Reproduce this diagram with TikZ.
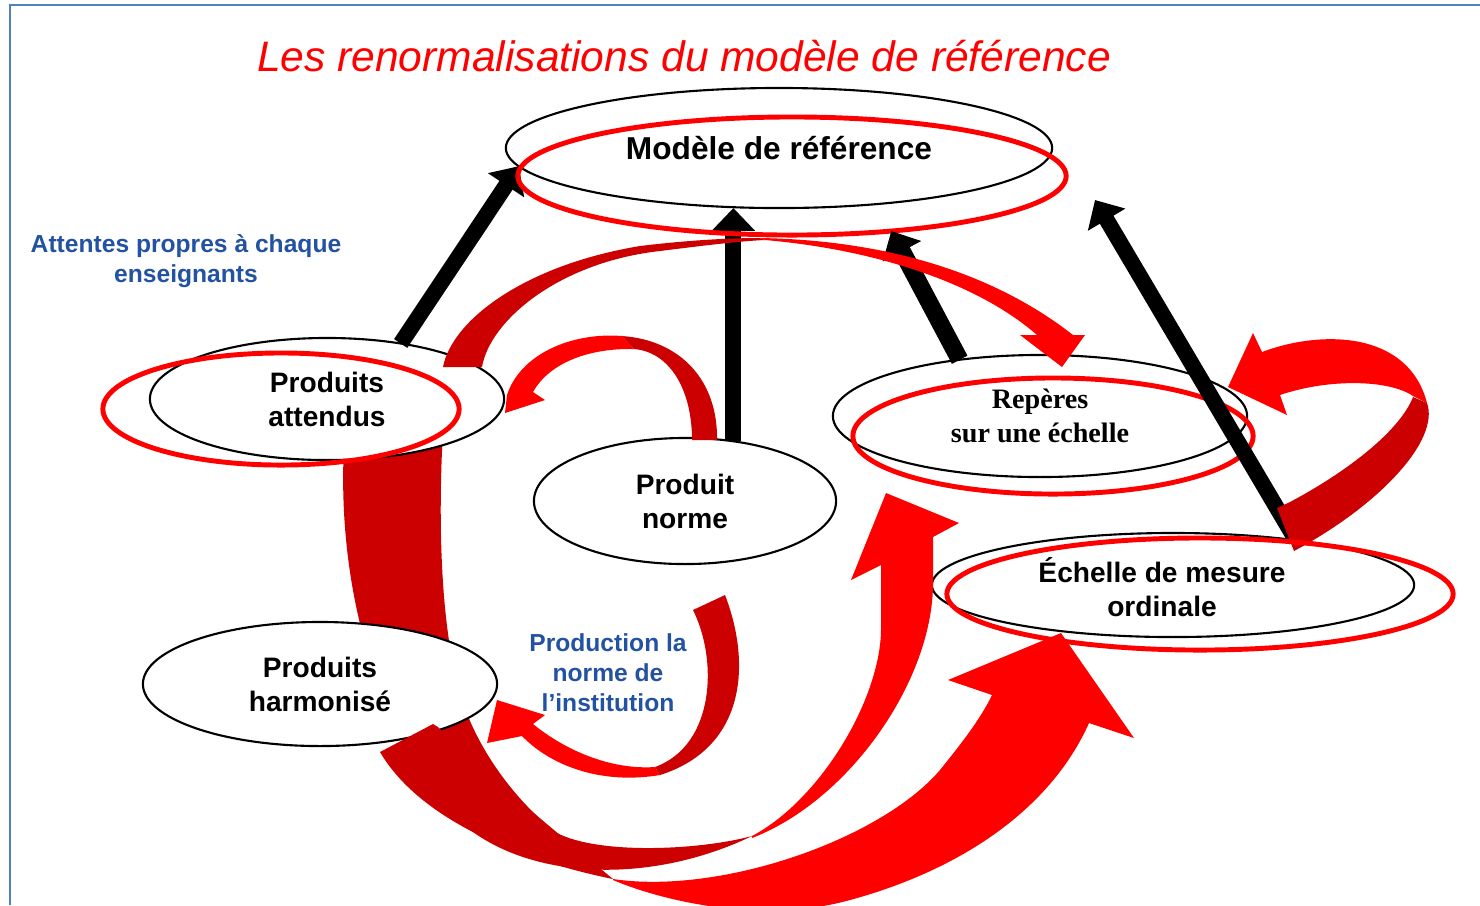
\documentclass[tikz,border=0pt]{standalone}
\usepackage{fontspec}
\setmainfont{Liberation Sans}
\newfontfamily\timesfont{Liberation Serif}
\usepackage{xcolor}
\usepackage{tikz}
\usetikzlibrary{shapes.geometric, arrows.meta}

\definecolor{rouge}{RGB}{255,0,0}
\definecolor{rougefonce}{RGB}{204,0,0}
\definecolor{bleutexte}{RGB}{35,82,162}
\definecolor{bleucadre}{RGB}{79,129,189}

\begin{document}
\begin{tikzpicture}[x=0.01cm, y=-0.01cm,
    boite/.style={ellipse, draw, line width=0.6pt, fill=white, inner sep=0pt, outer sep=0pt},
    anneau/.style={ellipse, draw=rouge, line width=1.4pt, inner sep=0pt, outer sep=0pt},
    fleche/.style={line width=4.5pt, -{Triangle[width=12pt, length=6.5pt]}},
    texte/.style={align=center, font=\fontsize{8}{9.7}\selectfont\bfseries},
    note/.style={align=center, text=bleutexte, font=\fontsize{7}{8.5}\selectfont\bfseries},
    sombre/.style={fill=rougefonce},
    vif/.style={fill=rouge}]
    \useasboundingbox (0,0) rectangle (1480,905);
    \draw[bleucadre, line width=0.8pt] (10,905) -- (10,5) -- (1480,5);

    \node[anchor=base, text=rouge, font=\fontsize{12.1}{14}\selectfont\itshape] (titre) at (684,71) {Les renormalisations du modèle de référence};

    % bande sombre qui passe derriere les produits harmonises
    \fill[sombre] (345,430) .. controls (335,560) and (365,700) .. (440,800)
        .. controls (500,880) and (640,890) .. (752,836)
        .. controls (700,850) and (600,855) .. (557,833)
        .. controls (520,805) and (480,755) .. (462,700)
        .. controls (440,630) and (438,520) .. (443,430) -- cycle;

    % ellipses
    \node[boite, texte, font=\fontsize{9}{11}\selectfont\bfseries, minimum width=5.46cm, minimum height=1.2cm] (modele) at (779,148) {Modèle de référence};
    \node[boite, texte, minimum width=3.54cm, minimum height=1.22cm] (attendus) at (327,399) {Produits\\attendus};
    \node[boite, texte, minimum width=3.02cm, minimum height=1.26cm] (norme) at (685,501) {Produit\\norme};
    \node[boite, texte, font=\fontsize{8}{9.7}\selectfont\timesfont\bfseries, minimum width=4.14cm, minimum height=1.22cm] (reperes) at (1040,416) {Repères\\sur une échelle};
    \node[boite, minimum width=4.82cm, minimum height=1.04cm] (echelle) at (1173,585) {};
    \node[texte] (echelleT) at (1162,587) {Échelle de mesure\\ordinale};
    \node[boite, texte, minimum width=3.54cm, minimum height=1.24cm] (harmonise) at (320,684) {Produits\\harmonisé};

    \fill[sombre] (380,752) .. controls (420,820) and (520,860) .. (613,879)
        .. controls (590,860) and (480,770) .. (438,727) -- (433,724) -- cycle;

    % fleches noires
    \draw[fleche] (attendus.37) -- (modele.184);
    \draw[fleche] (norme.51) -- (norme.51 |- modele.south);

    \node[anneau, minimum width=5.48cm, minimum height=1.18cm] (modeleR) at (792,176) {};
    \node[anneau, minimum width=3.56cm, minimum height=1.12cm] (attendusR) at (281,409) {};
    \draw[fleche, line width=5pt] (reperes.145) -- (modeleR.-29);
    \node[anneau, minimum width=4.00cm, minimum height=1.16cm] (reperesR) at (1053,436) {};

    \coordinate (pointe) at (1095,200);
    \draw[fleche] (echelle.20) -- (pointe);

    % attendus -> reperes
    \fill[sombre] (443,367) .. controls (452,320) and (525,265) .. (640,246)
        .. controls (690,240) and (730,238) .. (760,238) -- (765,240)
        .. controls (740,241) and (700,246) .. (660,251)
        .. controls (560,262) and (490,320) .. (482,367) -- cycle;
    \fill[vif] (760,238) .. controls (880,240) and (990,270) .. (1073,335)
        -- (1085,335) -- (1062,367) -- (1020,335) -- (1037,335)
        .. controls (980,285) and (880,250) .. (765,240) -- cycle;

    % norme -> attendus
    \fill[sombre] (717,440) .. controls (718,380) and (680,340) .. (622,336)
        -- (634,349) .. controls (670,352) and (692,390) .. (692,440) -- cycle;
    \fill[vif] (622,336) .. controls (570,332) and (520,355) .. (507,395)
        -- (505,413) -- (545,400) -- (533,392)
        .. controls (548,365) and (585,348) .. (634,349) -- cycle;

    % vers reperes par le bas
    \fill[vif] (752,836) .. controls (820,800) and (880,700) .. (881,630) -- (881,565)
        -- (851,580) -- (886,493) -- (959,523) -- (933,537) -- (933,583)
        .. controls (933,680) and (850,800) .. (752,838) -- cycle;

    % harmonise -> echelle
    \fill[vif] (613,879) .. controls (720,895) and (880,840) .. (940,770)
        .. controls (960,745) and (980,720) .. (992,695)
        -- (948,680) -- (1061,633) -- (1134,738) -- (1089,723)
        .. controls (1050,810) and (960,870) .. (850,900)
        .. controls (760,925) and (660,900) .. (613,880) -- cycle;

    % production de la norme
    \fill[sombre] (725,595) .. controls (752,665) and (745,748) .. (660,775)
        -- (655,767) .. controls (715,745) and (718,660) .. (693,610) -- cycle;
    \fill[vif] (660,775) .. controls (600,785) and (550,765) .. (522,736)
        -- (487,743) -- (497,700) -- (545,715) -- (533,724)
        .. controls (565,750) and (610,770) .. (655,767) -- cycle;

    % boucle de l'echelle
    \fill[sombre] (1277,508) -- (1290,502) .. controls (1350,470) and (1400,430) .. (1413,397)
        -- (1427,403) .. controls (1440,440) and (1380,505) .. (1294,551) -- cycle;
    \fill[vif] (1427,403) .. controls (1408,330) and (1320,330) .. (1262,352)
        -- (1253,333) -- (1228,387) -- (1287,415) -- (1280,395)
        .. controls (1330,378) and (1390,380) .. (1413,396) -- cycle;

    \node[anneau, minimum width=5.06cm, minimum height=1.12cm] (echelleR) at (1200,594) {};

    % textes bleus
    \node[note] (attentes) at (186,261) {Attentes propres à chaque\\enseignants};
    \node[note] (production) at (608,673) {Production la\\norme de\\l’institution};
\end{tikzpicture}
\end{document}
